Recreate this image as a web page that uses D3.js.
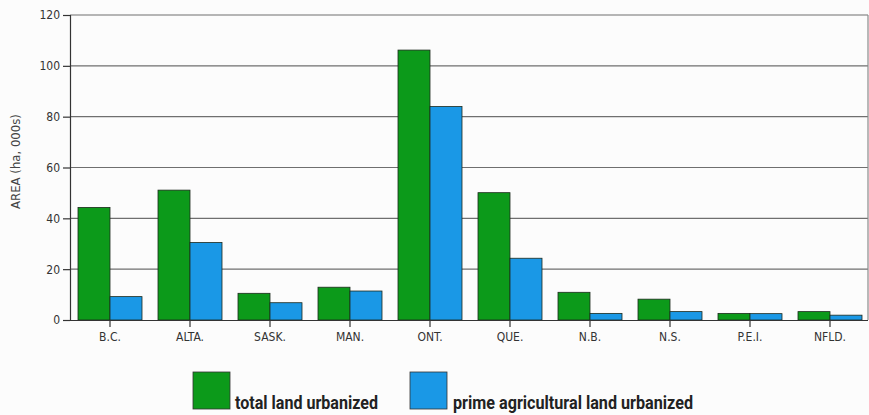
<!DOCTYPE html>
<html>
<head>
<meta charset="utf-8">
<script src="https://cdn.jsdelivr.net/npm/d3@7"></script>
<style>
  html, body { margin: 0; padding: 0; background: #fcfcfc; }
  svg { display: block; }
  .tick text { font-family: "DejaVu Sans Condensed", "Liberation Sans", sans-serif; }
</style>
</head>
<body>
<svg id="chart" width="869" height="415"></svg>
<script>
// Urban land conversion by province (thousands of hectares)
const provinces = ["B.C.", "ALTA.", "SASK.", "MAN.", "ONT.", "QUE.", "N.B.", "N.S.", "P.E.I.", "NFLD."];
const totalUrbanized = [44.3, 51.1, 10.5, 12.9, 106.2, 50.1, 10.9, 8.2, 2.6, 3.3];
const primeUrbanized = [9.2, 30.5, 6.8, 11.4, 84.0, 24.3, 2.6, 3.3, 2.5, 1.9];
const seriesNames = ["total land urbanized", "prime agricultural land urbanized"];
const seriesColors = ["#0c9a1a", "#1a98e6"];
const yTicks = [0, 20, 40, 60, 80, 100, 120];

const rows = provinces.map((p, i) => ({ p, vals: [totalUrbanized[i], primeUrbanized[i]] }));

const svg = d3.select("#chart");
const plotLeft = 70, plotRight = 868, plotTop = 15, plotBottom = 320;
const font = '"DejaVu Sans Condensed", "Liberation Sans", sans-serif';

const x0 = d3.scaleBand().domain(provinces).range([plotLeft, plotLeft + 800]).paddingInner(0.2).paddingOuter(0.1);
const x1 = d3.scaleBand().domain([0, 1]).range([0, x0.bandwidth()]);
const y = d3.scaleLinear().domain([0, 120]).range([plotBottom, plotTop]);

// horizontal gridlines
svg.append("g").selectAll("line").data(yTicks.filter(t => t > 0)).join("line")
  .attr("x1", plotLeft).attr("x2", plotRight)
  .attr("y1", d => y(d)).attr("y2", d => y(d))
  .attr("stroke", "#6f6f6f").attr("stroke-width", 1.2);

// right frame edge
svg.append("line").attr("x1", plotRight).attr("x2", plotRight).attr("y1", plotTop).attr("y2", plotBottom)
  .attr("stroke", "#8a8a8a").attr("stroke-width", 1.2);

// bars
const groups = svg.append("g").selectAll("g").data(rows).join("g")
  .attr("transform", d => `translate(${x0(d.p)},0)`);
groups.selectAll("rect").data(d => d.vals.map((v, k) => ({ v, k }))).join("rect")
  .attr("x", d => x1(d.k))
  .attr("width", x1.bandwidth())
  .attr("y", d => y(d.v))
  .attr("height", d => y(0) - y(d.v))
  .attr("fill", d => seriesColors[d.k])
  .attr("stroke", "#1d2a1d").attr("stroke-width", 0.8);

// y axis
const yAxis = svg.append("g").attr("transform", `translate(${plotLeft},0)`)
  .call(d3.axisLeft(y).tickValues(yTicks).tickSize(7).tickPadding(3));
yAxis.select(".domain").attr("stroke", "#333").attr("stroke-width", 1.2);
yAxis.selectAll(".tick line").attr("stroke", "#333").attr("stroke-width", 1.2);
yAxis.selectAll(".tick text").attr("font-size", 12).attr("fill", "#333");

// x axis
const xAxis = svg.append("g").attr("transform", `translate(0,${plotBottom})`)
  .call(d3.axisBottom(x0).tickSize(7).tickPadding(5).tickSizeOuter(0));
xAxis.select(".domain").attr("d", `M${plotLeft - 7},0.5H${plotRight}`).attr("stroke", "#333").attr("stroke-width", 1.2);
xAxis.selectAll(".tick line").attr("stroke", "#333").attr("stroke-width", 1.2);
xAxis.selectAll(".tick text").attr("font-size", 12).attr("fill", "#333");

// y axis title
svg.append("text")
  .attr("transform", `translate(20,${(plotTop + plotBottom) / 2 - 6}) rotate(-90)`)
  .attr("text-anchor", "middle")
  .attr("font-family", font).attr("font-size", 13).attr("fill", "#444")
  .text("AREA (ha, 000s)");

// legend
const legendX = [193, 410];
const legendTextWidth = [143, 240];
const legend = svg.append("g").selectAll("g").data(seriesNames).join("g")
  .attr("transform", (d, i) => `translate(${legendX[i]},372)`);
legend.append("rect").attr("width", 37).attr("height", 37)
  .attr("fill", (d, i) => seriesColors[i]).attr("stroke", "#333").attr("stroke-width", 0.8);
legend.append("text").attr("x", (d, i) => i === 0 ? 42 : 43).attr("y", 37)
  .attr("font-family", '"Roboto", "Liberation Sans", sans-serif').attr("font-weight", "bold")
  .attr("font-size", 19).attr("fill", "#222")
  .attr("textLength", (d, i) => legendTextWidth[i]).attr("lengthAdjust", "spacingAndGlyphs")
  .text(d => d);
</script>
</body>
</html>
